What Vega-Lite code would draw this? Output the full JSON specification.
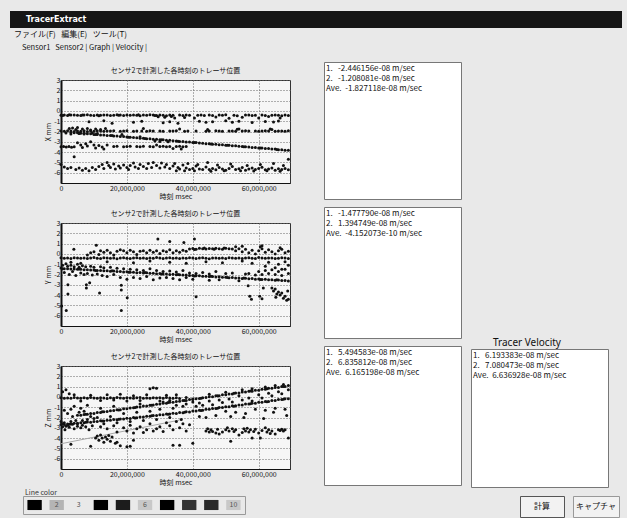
{
"$schema":"https://vega.github.io/schema/vega-lite/v6.json",
"background":"#e9e9e9",
"padding":{"left":10,"top":11,"right":5,"bottom":0},
"config":{"view":{"stroke":null},"font":"Noto Sans CJK JP","concat":{"spacing":0},
"axis":{"labelFontSize":7,"titleFontSize":7,"titleFontWeight":"normal","labelColor":"#111","titleColor":"#111","gridColor":"#666","gridDash":[1,2],"gridWidth":1,"domainColor":"#111","tickColor":"#111","labelPadding":1,"titlePadding":1.5,"ticks":false,"labelFont":"Noto Sans CJK JP","titleFont":"Noto Sans CJK JP"},
"title":{"font":"Noto Sans CJK JP"}},
"datasets":{
"none":[],
"X":[{"t":0,"v":-0.42},{"t":1,"v":-0.4},{"t":2,"v":-0.44},{"t":3,"v":-0.41},{"t":4,"v":-0.39},{"t":5,"v":-0.43},{"t":6,"v":-0.45},{"t":7,"v":-0.41},{"t":8,"v":-0.38},{"t":9,"v":-0.42},{"t":10,"v":-0.44},{"t":11,"v":-0.4},{"t":12,"v":-0.43},{"t":13,"v":-0.39},{"t":14,"v":-0.41},{"t":15,"v":-0.45},{"t":16,"v":-0.42},{"t":17,"v":-0.38},{"t":18,"v":-0.4},{"t":19,"v":-0.44},{"t":20,"v":-0.41},{"t":21,"v":-0.43},{"t":22,"v":-0.39},{"t":23,"v":-0.42},{"t":24,"v":-0.46},{"t":25,"v":-0.4},{"t":26,"v":-0.43},{"t":27,"v":-0.37},{"t":28,"v":-0.41},{"t":29,"v":-0.44},{"t":30,"v":-0.4},{"t":31,"v":-0.42},{"t":32,"v":-0.47},{"t":33,"v":-0.39},{"t":34,"v":-0.43},
{"t":0.5,"v":-0.45},{"t":2.5,"v":-0.38},{"t":6.5,"v":-0.4},{"t":11.5,"v":-0.46},{"t":17.5,"v":-0.43},{"t":23.5,"v":-0.38},{"t":28.5,"v":-0.45},{"t":29.5,"v":-0.58},{"t":31.5,"v":-0.62},{"t":33.5,"v":-0.55},{"t":34.5,"v":-0.7},
{"t":36,"v":-0.41},{"t":37,"v":-0.44},{"t":38,"v":-0.4},{"t":39,"v":-0.43},{"t":41.5,"v":-0.42},{"t":42.5,"v":-0.39},{"t":43.5,"v":-0.44},{"t":45,"v":-0.41},{"t":46,"v":-0.45},{"t":48,"v":-0.4},{"t":49,"v":-0.43},{"t":50,"v":-0.38},{"t":52.5,"v":-0.42},{"t":53.5,"v":-0.46},{"t":56,"v":-0.41},{"t":57,"v":-0.39},{"t":58,"v":-0.44},{"t":59,"v":-0.42},{"t":61,"v":-0.4},{"t":62,"v":-0.45},{"t":64,"v":-0.43},{"t":65,"v":-0.39},{"t":66,"v":-0.42},{"t":67,"v":-0.46},{"t":68,"v":-0.41},{"t":69,"v":-0.44},
{"t":37.5,"v":-0.65},{"t":40.5,"v":-0.7},{"t":47,"v":-0.6},{"t":51,"v":-0.72},{"t":55,"v":-0.62},{"t":60,"v":-0.68},{"t":63,"v":-0.55},{"t":66.5,"v":-0.7},
{"t":8.5,"v":-1.05},{"t":13,"v":-0.95},{"t":15.5,"v":-1.2},{"t":22,"v":-1.1},{"t":24.5,"v":-1.0},{"t":31,"v":-1.15},{"t":33,"v":-1.05},{"t":35.5,"v":-1.2},{"t":42,"v":-1.0},{"t":44,"v":-1.1},{"t":46,"v":-1.05},{"t":50,"v":-0.95},{"t":52,"v":-1.1},{"t":54,"v":-1.0},{"t":58,"v":-1.12},{"t":62,"v":-1.02},{"t":64.5,"v":-1.08},{"t":66,"v":-0.98},
{"t":0,"v":-1.95},{"t":1,"v":-1.98},{"t":2,"v":-1.93},{"t":3,"v":-1.96},{"t":4,"v":-2.0},{"t":5,"v":-1.94},{"t":6,"v":-1.97},{"t":7,"v":-1.92},{"t":8,"v":-1.99},{"t":9,"v":-1.95},{"t":10,"v":-1.97},{"t":11,"v":-1.93},{"t":12,"v":-1.96},{"t":13,"v":-1.98},{"t":14,"v":-1.94},
{"t":1.5,"v":-2.15},{"t":2.5,"v":-1.7},{"t":3,"v":-2.25},{"t":3.5,"v":-1.65},{"t":4.5,"v":-1.8},{"t":5,"v":-1.6},{"t":5.5,"v":-2.2},{"t":6.5,"v":-1.75},{"t":7,"v":-2.25},{"t":8,"v":-1.7},{"t":9,"v":-1.85},{"t":9.5,"v":-2.15},{"t":10.5,"v":-1.75},{"t":11,"v":-2.2},{"t":12,"v":-1.8},{"t":13.5,"v":-1.72},
{"t":15,"v":-1.96},{"t":16,"v":-1.93},{"t":18,"v":-1.97},{"t":19,"v":-1.95},{"t":20,"v":-1.92},{"t":22,"v":-1.98},{"t":23,"v":-1.95},{"t":24.5,"v":-1.94},{"t":26,"v":-1.97},{"t":27,"v":-1.93},{"t":28,"v":-1.96},
{"t":30,"v":-1.95},{"t":31,"v":-1.98},{"t":33,"v":-1.94},{"t":34,"v":-1.96},{"t":35,"v":-1.93},{"t":37.5,"v":-1.97},{"t":38.5,"v":-1.95},{"t":41,"v":-1.94},{"t":44,"v":-1.97},{"t":45,"v":-1.95},{"t":47,"v":-1.93},{"t":48,"v":-1.96},{"t":49,"v":-1.98},{"t":51,"v":-1.95},{"t":52,"v":-1.94},{"t":53,"v":-1.97},{"t":55,"v":-1.95},{"t":56,"v":-1.93},{"t":57,"v":-1.96},{"t":59,"v":-1.94},{"t":60,"v":-1.97},{"t":61,"v":-1.95},{"t":62,"v":-1.93},{"t":63,"v":-1.96},{"t":65,"v":-1.98},{"t":66,"v":-1.94},{"t":67,"v":-1.95},{"t":68,"v":-1.97},{"t":69,"v":-1.93},
{"t":53.5,"v":-1.78},{"t":54,"v":-1.75},{"t":63.5,"v":-1.75},{"t":64,"v":-1.8},{"t":44.5,"v":-1.8},{"t":25,"v":-1.72},{"t":36,"v":-1.75},
{"t":3,"v":-2.08},{"t":4,"v":-2.13},{"t":5,"v":-2.12},{"t":6,"v":-2.17},{"t":7,"v":-2.18},{"t":8,"v":-2.23},{"t":9,"v":-2.23},{"t":10,"v":-2.28},{"t":11,"v":-2.28},{"t":12,"v":-2.34},{"t":13,"v":-2.33},{"t":14,"v":-2.38},{"t":15,"v":-2.39},{"t":16,"v":-2.43},{"t":17,"v":-2.44},{"t":18,"v":-2.49},{"t":19,"v":-2.49},{"t":20,"v":-2.54},{"t":21,"v":-2.55},{"t":22,"v":-2.59},{"t":23,"v":-2.6},{"t":24,"v":-2.65},{"t":25,"v":-2.65},{"t":26,"v":-2.7},{"t":27,"v":-2.71},{"t":28,"v":-2.75},{"t":29,"v":-2.76},{"t":30,"v":-2.81},{"t":31,"v":-2.81},{"t":32,"v":-2.86},{"t":33,"v":-2.86},{"t":34,"v":-2.91},{"t":35,"v":-2.92},{"t":36,"v":-2.96},{"t":37,"v":-2.97},{"t":38,"v":-3.02},{"t":39,"v":-3.02},{"t":40,"v":-3.07},{"t":41,"v":-3.08},{"t":42,"v":-3.12},{"t":43,"v":-3.13},{"t":44,"v":-3.18},{"t":45,"v":-3.18},{"t":46,"v":-3.23},{"t":47,"v":-3.24},{"t":48,"v":-3.28},{"t":49,"v":-3.29},{"t":50,"v":-3.34},{"t":51,"v":-3.34},{"t":52,"v":-3.39},{"t":53,"v":-3.39},{"t":54,"v":-3.44},{"t":55,"v":-3.45},{"t":56,"v":-3.49},{"t":57,"v":-3.5},{"t":58,"v":-3.55},{"t":59,"v":-3.55},{"t":60,"v":-3.6},{"t":61,"v":-3.61},{"t":62,"v":-3.65},{"t":63,"v":-3.66},{"t":64,"v":-3.71},{"t":65,"v":-3.71},{"t":66,"v":-3.76},{"t":67,"v":-3.77},{"t":68,"v":-3.81},{"t":69,"v":-3.82},
{"t":5.5,"v":-2.16},{"t":10.5,"v":-2.29},{"t":15.5,"v":-2.4},{"t":20.5,"v":-2.55},{"t":25.5,"v":-2.68},{"t":30.5,"v":-2.8},{"t":35.5,"v":-2.95},{"t":40.5,"v":-3.08},{"t":45.5,"v":-3.21},{"t":50.5,"v":-3.34},{"t":55.5,"v":-3.48},{"t":60.5,"v":-3.61},{"t":65.5,"v":-3.74},{"t":28.5,"v":-2.92},{"t":30,"v":-2.96},{"t":32.5,"v":-3.0},{"t":24,"v":-2.5},{"t":18.5,"v":-2.3},
{"t":0,"v":-3.48},{"t":0.8,"v":-3.45},{"t":1.6,"v":-3.5},{"t":2.4,"v":-3.46},{"t":3.2,"v":-3.52},{"t":4,"v":-3.47},{"t":5,"v":-3.1},{"t":6,"v":-3.3},{"t":6.5,"v":-3.55},{"t":7.5,"v":-3.2},{"t":8,"v":-3.4},{"t":9,"v":-3.0},{"t":10,"v":-3.3},{"t":10.5,"v":-3.6},{"t":11.5,"v":-3.35},{"t":12.5,"v":-3.5},{"t":13,"v":-3.7},{"t":14,"v":-3.3},
{"t":16,"v":-3.46},{"t":17,"v":-3.44},{"t":19,"v":-3.47},{"t":20,"v":-3.45},{"t":21,"v":-3.43},{"t":23,"v":-3.46},{"t":24,"v":-3.48},{"t":25,"v":-3.44},{"t":27,"v":-3.45},{"t":28,"v":-3.47},{"t":30,"v":-3.46},{"t":31,"v":-3.44},{"t":32,"v":-3.48},{"t":33,"v":-3.45},{"t":35,"v":-3.46},{"t":36,"v":-3.43},{"t":37,"v":-3.47},{"t":38,"v":-3.45},{"t":29,"v":-3.3},{"t":34,"v":-3.65},{"t":36.5,"v":-3.7},
{"t":0,"v":-5.2},{"t":1,"v":-5.45},{"t":2,"v":-5.6},{"t":3,"v":-5.5},{"t":4.5,"v":-5.7},{"t":5.5,"v":-5.55},{"t":6.5,"v":-5.75},{"t":7.5,"v":-5.6},{"t":8.5,"v":-5.8},{"t":9.5,"v":-5.5},{"t":10.5,"v":-5.7},{"t":11.5,"v":-5.4},{"t":12.5,"v":-5.2},{"t":13,"v":-5.6},{"t":14,"v":-5.0},{"t":14.5,"v":-5.3},{"t":15,"v":-5.5},{"t":16,"v":-5.15},{"t":16.5,"v":-5.65},{"t":17.5,"v":-5.35},{"t":18,"v":-5.55},{"t":19,"v":-5.25},{"t":20,"v":-5.5},{"t":20.5,"v":-5.7},{"t":21,"v":-5.3},{"t":22,"v":-5.05},{"t":22.5,"v":-5.45},{"t":23.5,"v":-5.6},{"t":24,"v":-5.2},{"t":25,"v":-5.4},{"t":26,"v":-5.6},{"t":26.5,"v":-5.1},{"t":27.5,"v":-5.5},{"t":28,"v":-5.0},{"t":29,"v":-5.3},{"t":30,"v":-5.55},{"t":30.5,"v":-5.05},{"t":31.5,"v":-5.45},{"t":32,"v":-5.2},{"t":33,"v":-5.6},{"t":34,"v":-5.35},{"t":34.5,"v":-5.1},{"t":35.5,"v":-5.5},{"t":36,"v":-5.65},{"t":37,"v":-5.25},{"t":38,"v":-5.55},{"t":39,"v":-5.7},{"t":40,"v":-5.6},{"t":41,"v":-5.35},{"t":42,"v":-5.65},{"t":43,"v":-5.7},{"t":44,"v":-5.45},{"t":45,"v":-5.68},{"t":46,"v":-5.6},{"t":47,"v":-5.72},{"t":48,"v":-5.5},{"t":49,"v":-5.65},{"t":50,"v":-5.75},{"t":51,"v":-5.6},{"t":52,"v":-5.4},{"t":53,"v":-5.7},{"t":54,"v":-5.62},{"t":55,"v":-5.5},{"t":56,"v":-5.75},{"t":57,"v":-5.65},{"t":58,"v":-5.55},{"t":59,"v":-5.7},{"t":60,"v":-5.6},{"t":61,"v":-5.48},{"t":62,"v":-5.72},{"t":63,"v":-5.65},{"t":64,"v":-5.55},{"t":65,"v":-5.75},{"t":66,"v":-5.62},{"t":67,"v":-5.7},{"t":68,"v":-5.6},{"t":69,"v":-5.72},
{"t":38.5,"v":-5.1},{"t":41.5,"v":-5.2},{"t":44.5,"v":-5.0},{"t":47.5,"v":-5.25},{"t":51.5,"v":-5.15},{"t":56.5,"v":-5.3},{"t":60.5,"v":-5.2},{"t":64.5,"v":-5.1},{"t":67.5,"v":-5.3},{"t":35,"v":-5.8},{"t":37.5,"v":-5.82},{"t":40.5,"v":-5.8},{"t":45.5,"v":-5.85},{"t":49.5,"v":-5.82},{"t":54.5,"v":-5.8},{"t":58.5,"v":-5.83},{"t":62.5,"v":-5.8},{"t":66.5,"v":-5.85},{"t":4,"v":-4.45},{"t":69,"v":-4.7}],
"Y":[{"t":0,"v":-0.38},{"t":1,"v":-0.42},{"t":2,"v":-0.4},{"t":3,"v":-0.44},{"t":4,"v":-0.37},{"t":5,"v":-0.41},{"t":6,"v":-0.43},{"t":7,"v":-0.39},{"t":8,"v":-0.45},{"t":9,"v":-0.4},{"t":10,"v":-0.36},{"t":11,"v":-0.42},{"t":12,"v":-0.44},{"t":13,"v":-0.38},{"t":14,"v":-0.41},{"t":15,"v":-0.43},{"t":16,"v":-0.39},{"t":17,"v":-0.46},{"t":18,"v":-0.4},{"t":19,"v":-0.37},{"t":20,"v":-0.42},{"t":21,"v":-0.44},{"t":22,"v":-0.4},{"t":23,"v":-0.38},{"t":24,"v":-0.43},{"t":25,"v":-0.41},{"t":26,"v":-0.45},{"t":27,"v":-0.39},{"t":28,"v":-0.42},{"t":29,"v":-0.36},{"t":30,"v":-0.4},{"t":31,"v":-0.44},{"t":32,"v":-0.41},{"t":33,"v":-0.38},{"t":34,"v":-0.43},{"t":35,"v":-0.4},{"t":36,"v":-0.45},{"t":37,"v":-0.39},{"t":38,"v":-0.42},{"t":39,"v":-0.37},{"t":40,"v":-0.41},{"t":41,"v":-0.44},{"t":42,"v":-0.4},{"t":43,"v":-0.38},{"t":44,"v":-0.43},{"t":45,"v":-0.46},{"t":46,"v":-0.41},{"t":47,"v":-0.39},{"t":48,"v":-0.42},{"t":49,"v":-0.4},{"t":50,"v":-0.44},{"t":51,"v":-0.37},{"t":52,"v":-0.41},{"t":53,"v":-0.43},{"t":54,"v":-0.39},{"t":55,"v":-0.45},{"t":56,"v":-0.4},{"t":57,"v":-0.38},{"t":58,"v":-0.42},{"t":59,"v":-0.44},{"t":60,"v":-0.36},{"t":61,"v":-0.41},{"t":62,"v":-0.43},{"t":63,"v":-0.39},{"t":64,"v":-0.4},{"t":65,"v":-0.45},{"t":66,"v":-0.42},{"t":67,"v":-0.38},{"t":68,"v":-0.41},{"t":69,"v":-0.44},
{"t":39,"v":0.48},{"t":40,"v":0.52},{"t":41,"v":0.45},{"t":42,"v":0.55},{"t":43,"v":0.5},{"t":44,"v":0.47},{"t":45,"v":0.53},{"t":46,"v":0.49},{"t":47,"v":0.56},{"t":48,"v":0.51},{"t":49,"v":0.46},{"t":50,"v":0.54},{"t":51,"v":0.5},{"t":52,"v":0.48},{"t":40.5,"v":0.42},{"t":43.5,"v":0.58},{"t":46.5,"v":0.44},{"t":49.5,"v":0.57},
{"t":8,"v":-0.1},{"t":9,"v":0.1},{"t":10,"v":0.2},{"t":11.5,"v":-0.05},{"t":12,"v":0.3},{"t":13,"v":0.15},{"t":14,"v":0.35},{"t":15,"v":0.1},{"t":16,"v":-0.1},{"t":17,"v":0.25},{"t":18,"v":0.4},{"t":19,"v":0.3},{"t":20,"v":0.1},{"t":21,"v":0.35},{"t":22,"v":0.2},{"t":23,"v":-0.05},{"t":24,"v":0.25},{"t":25,"v":0.3},{"t":26,"v":0.1},{"t":27,"v":0.35},{"t":28,"v":0.15},{"t":29,"v":0.3},{"t":30,"v":0.05},{"t":31,"v":0.3},{"t":32,"v":0.2},{"t":33,"v":0.4},{"t":34,"v":0.1},{"t":35,"v":0.3},{"t":36,"v":0.15},{"t":37,"v":0.35},{"t":38,"v":0.25},{"t":53,"v":0.3},{"t":54,"v":0.5},{"t":55,"v":0.2},{"t":56,"v":0.45},{"t":57,"v":0.1},{"t":58,"v":0.35},{"t":59,"v":0.0},{"t":60,"v":0.3},{"t":61,"v":0.5},{"t":62,"v":0.15},{"t":63,"v":0.4},{"t":64,"v":0.2},{"t":65,"v":0.0},{"t":66,"v":0.3},{"t":67,"v":0.45},{"t":68,"v":0.1},{"t":69,"v":0.25},{"t":53,"v":0.7},{"t":55,"v":0.75},{"t":60.5,"v":0.7},{"t":61,"v":0.8},{"t":66.5,"v":0.6},
{"t":3,"v":-0.8},{"t":6,"v":-0.9},{"t":14,"v":-0.75},{"t":22,"v":-0.85},{"t":27,"v":-0.7},{"t":33,"v":-0.8},{"t":38,"v":-0.9},{"t":44,"v":-0.75},{"t":49,"v":-0.85},{"t":55,"v":-0.7},{"t":58,"v":-0.9},{"t":63,"v":-0.8},{"t":66,"v":-1.0},{"t":68,"v":-0.75},{"t":62,"v":-1.2},{"t":65,"v":-1.35},{"t":67,"v":-1.5},{"t":69,"v":-1.1},
{"t":0,"v":-1.38},{"t":1,"v":-1.44},{"t":2,"v":-1.43},{"t":3,"v":-1.47},{"t":4,"v":-1.46},{"t":5,"v":-1.5},{"t":6,"v":-1.49},{"t":7,"v":-1.54},{"t":8,"v":-1.53},{"t":9,"v":-1.57},{"t":10,"v":-1.56},{"t":11,"v":-1.61},{"t":12,"v":-1.6},{"t":13,"v":-1.64},{"t":14,"v":-1.63},{"t":15,"v":-1.68},{"t":16,"v":-1.67},{"t":17,"v":-1.71},{"t":18,"v":-1.7},{"t":19,"v":-1.75},{"t":20,"v":-1.74},{"t":21,"v":-1.78},{"t":22,"v":-1.77},{"t":23,"v":-1.82},{"t":24,"v":-1.81},{"t":25,"v":-1.85},{"t":26,"v":-1.84},{"t":27,"v":-1.89},{"t":28,"v":-1.88},{"t":29,"v":-1.92},{"t":30,"v":-1.91},{"t":31,"v":-1.96},{"t":32,"v":-1.95},{"t":33,"v":-1.99},{"t":34,"v":-1.98},{"t":35,"v":-2.03},{"t":36,"v":-2.02},{"t":37,"v":-2.06},{"t":38,"v":-2.05},{"t":39,"v":-2.1},{"t":40,"v":-2.09},{"t":41,"v":-2.13},{"t":42,"v":-2.12},{"t":43,"v":-2.17},{"t":44,"v":-2.16},{"t":45,"v":-2.2},{"t":46,"v":-2.19},{"t":47,"v":-2.24},{"t":48,"v":-2.23},{"t":49,"v":-2.27},{"t":50,"v":-2.26},{"t":51,"v":-2.31},{"t":52,"v":-2.3},{"t":53,"v":-2.34},{"t":54,"v":-2.33},{"t":55,"v":-2.38},{"t":56,"v":-2.37},{"t":57,"v":-2.41},{"t":58,"v":-2.4},{"t":59,"v":-2.45},{"t":60,"v":-2.44},{"t":61,"v":-2.48},{"t":62,"v":-2.47},{"t":63,"v":-2.52},{"t":64,"v":-2.51},{"t":65,"v":-2.55},{"t":66,"v":-2.54},{"t":67,"v":-2.59},{"t":68,"v":-2.58},{"t":69,"v":-2.62},
{"t":0.5,"v":-1.45},{"t":5.5,"v":-1.46},{"t":10.5,"v":-1.62},{"t":15.5,"v":-1.64},{"t":20.5,"v":-1.79},{"t":25.5,"v":-1.81},{"t":30.5,"v":-1.96},{"t":35.5,"v":-1.99},{"t":40.5,"v":-2.14},{"t":45.5,"v":-2.17},{"t":50.5,"v":-2.3},{"t":55.5,"v":-2.34},{"t":60.5,"v":-2.48},{"t":65.5,"v":-2.51},
{"t":0.5,"v":-1.1},{"t":1,"v":-1.8},{"t":1.5,"v":-0.95},{"t":2,"v":-1.2},{"t":2.5,"v":-2.0},{"t":3,"v":-1.1},{"t":3.5,"v":-1.7},{"t":4,"v":-1.25},{"t":4.5,"v":-2.1},{"t":5,"v":-1.0},{"t":5.5,"v":-1.3},{"t":6,"v":-1.85},{"t":6.5,"v":-1.15},{"t":7,"v":-2.0},{"t":7.5,"v":-1.25},{"t":8,"v":-1.9},{"t":9,"v":-1.2},{"t":9.5,"v":-2.05},{"t":10,"v":-1.3},{"t":11,"v":-1.95},{"t":12,"v":-1.25},{"t":12.5,"v":-2.1},{"t":13,"v":-1.35},{"t":14,"v":-2.2},{"t":15,"v":-1.3},{"t":16,"v":-2.0},{"t":17,"v":-1.4},{"t":18,"v":-2.3},{"t":19,"v":-1.45},{"t":20,"v":-2.45},{"t":21,"v":-1.5},{"t":22,"v":-2.3},{"t":23,"v":-1.55},{"t":24,"v":-2.4},{"t":25,"v":-1.6},{"t":26,"v":-2.2},{"t":27,"v":-1.45},{"t":28,"v":-2.5},{"t":29,"v":-1.6},{"t":30,"v":-2.35},{"t":31,"v":-1.7},{"t":32,"v":-2.3},{"t":33,"v":-1.65},{"t":34,"v":-2.4},{"t":35,"v":-1.75},{"t":36,"v":-2.5},{"t":37,"v":-1.6},{"t":38,"v":-2.3},{"t":39,"v":-1.85},{"t":40,"v":-2.45},{"t":41,"v":-1.9},{"t":43,"v":-1.8},{"t":45,"v":-1.95},{"t":47,"v":-1.7},{"t":48,"v":-2.5},{"t":50,"v":-1.9},{"t":52,"v":-1.85},{"t":54,"v":-2.6},{"t":56,"v":-1.95},{"t":57,"v":-1.9},{"t":59,"v":-2.05},{"t":60,"v":-1.7},{"t":61,"v":-2.0},{"t":62,"v":-1.6},{"t":63,"v":-1.9},{"t":64,"v":-1.55},{"t":65,"v":-2.0},{"t":66,"v":-1.7},{"t":67,"v":-2.1},{"t":68,"v":-1.5},{"t":69,"v":-1.9},
{"t":0.2,"v":-5.06},{"t":1.6,"v":-5.5},{"t":2.1,"v":-3.9},{"t":2.1,"v":-3.0},{"t":3.9,"v":0.45},{"t":7.7,"v":-3.0},{"t":7.7,"v":-3.3},{"t":8.7,"v":-2.8},{"t":10.7,"v":0.85},{"t":11.7,"v":-3.8},{"t":18.3,"v":-3.05},{"t":18.3,"v":-3.5},{"t":18.3,"v":-5.5},{"t":20.1,"v":-4.25},{"t":29.4,"v":1.45},{"t":33,"v":1.2},{"t":37.3,"v":1.1},{"t":40.5,"v":1.45},{"t":41,"v":-4.15},{"t":45,"v":-2.55},{"t":56.8,"v":-3.1},{"t":57.3,"v":-4.1},{"t":57.8,"v":-4.4},{"t":60.3,"v":-4.1},{"t":61.4,"v":-3.3},{"t":61,"v":-4.35},{"t":64,"v":-3.3},{"t":64.5,"v":-3.6},{"t":65,"v":-3.4},{"t":65.5,"v":-3.9},{"t":66,"v":-3.7},{"t":66.5,"v":-4.0},{"t":67,"v":-3.8},{"t":67.5,"v":-4.3},{"t":68,"v":-4.1},{"t":68.5,"v":-4.5},{"t":69,"v":-4.4},{"t":65.2,"v":-4.2},{"t":68.8,"v":-3.6}],
"Z":[{"t":0,"v":-0.08},{"t":1,"v":-0.12},{"t":2,"v":-0.1},{"t":3,"v":-0.14},{"t":4,"v":-0.07},{"t":5,"v":-0.11},{"t":6,"v":-0.13},{"t":7,"v":-0.09},{"t":8,"v":-0.12},{"t":9,"v":-0.06},{"t":10,"v":-0.1},{"t":11,"v":-0.13},{"t":12,"v":-0.08},{"t":13,"v":-0.11},{"t":14,"v":-0.15},{"t":15,"v":-0.09},{"t":16,"v":-0.12},{"t":17,"v":-0.07},{"t":18,"v":-0.1},{"t":19,"v":-0.14},{"t":20,"v":-0.08},{"t":21,"v":-0.11},{"t":22,"v":-0.13},{"t":23,"v":-0.09},{"t":24,"v":-0.06},{"t":25,"v":-0.12},{"t":26,"v":-0.1},{"t":27,"v":-0.14},{"t":28,"v":-0.08},{"t":29,"v":-0.11},{"t":30,"v":-0.09},{"t":31,"v":-0.13},{"t":32,"v":-0.07},{"t":33,"v":-0.1},{"t":34,"v":-0.12},{"t":35,"v":-0.08},
{"t":0.5,"v":0.5},{"t":1.5,"v":0.7},{"t":2.5,"v":0.3},{"t":4,"v":0.2},{"t":6,"v":-0.4},{"t":9,"v":0.15},{"t":12,"v":-0.35},{"t":14,"v":0.2},{"t":16,"v":-0.3},{"t":18,"v":0.25},{"t":20,"v":-0.4},{"t":22,"v":0.1},{"t":24,"v":-0.35},{"t":26,"v":0.2},{"t":27,"v":0.8},{"t":28,"v":0.9},{"t":29,"v":0.85},{"t":30,"v":-0.4},{"t":32,"v":0.15},{"t":33,"v":-0.35},{"t":35,"v":0.2},{"t":36,"v":-0.15},{"t":38,"v":-0.05},{"t":40,"v":-0.2},
{"t":5,"v":-1.79},{"t":6,"v":-1.78},{"t":7,"v":-1.7},{"t":8,"v":-1.69},{"t":9,"v":-1.61},{"t":10,"v":-1.6},{"t":11,"v":-1.52},{"t":12,"v":-1.51},{"t":13,"v":-1.43},{"t":14,"v":-1.42},{"t":15,"v":-1.34},{"t":16,"v":-1.33},{"t":17,"v":-1.25},{"t":18,"v":-1.24},{"t":19,"v":-1.16},{"t":20,"v":-1.15},{"t":21,"v":-1.07},{"t":22,"v":-1.06},{"t":23,"v":-0.98},{"t":24,"v":-0.97},{"t":25,"v":-0.89},{"t":26,"v":-0.88},{"t":27,"v":-0.8},{"t":28,"v":-0.79},{"t":29,"v":-0.71},{"t":30,"v":-0.7},{"t":31,"v":-0.62},{"t":32,"v":-0.61},{"t":33,"v":-0.53},{"t":34,"v":-0.52},{"t":35,"v":-0.44},{"t":36,"v":-0.43},{"t":37,"v":-0.35},{"t":38,"v":-0.34},{"t":39,"v":-0.26},{"t":40,"v":-0.25},{"t":41,"v":-0.17},{"t":42,"v":-0.16},{"t":43,"v":-0.08},{"t":44,"v":-0.07},{"t":45,"v":0.01},{"t":46,"v":0.02},{"t":47,"v":0.11},{"t":48,"v":0.11},{"t":49,"v":0.2},{"t":50,"v":0.2},{"t":51,"v":0.29},{"t":52,"v":0.29},{"t":53,"v":0.38},{"t":54,"v":0.38},{"t":55,"v":0.47},{"t":56,"v":0.47},{"t":57,"v":0.56},{"t":58,"v":0.56},{"t":59,"v":0.65},{"t":60,"v":0.65},{"t":61,"v":0.74},{"t":62,"v":0.74},{"t":63,"v":0.83},{"t":64,"v":0.83},{"t":65,"v":0.92},{"t":66,"v":0.92},{"t":67,"v":1.01},{"t":68,"v":1.01},{"t":69,"v":1.1},
{"t":7.5,"v":-1.68},{"t":12.5,"v":-1.45},{"t":17.5,"v":-1.27},{"t":22.5,"v":-1.02},{"t":27.5,"v":-0.82},{"t":32.5,"v":-0.55},{"t":37.5,"v":-0.35},{"t":42.5,"v":-0.12},{"t":47.5,"v":0.12},{"t":52.5,"v":0.35},{"t":57.5,"v":0.57},{"t":62.5,"v":0.79},{"t":67.5,"v":1.02},
{"t":0,"v":-2.68},{"t":1,"v":-2.69},{"t":2,"v":-2.62},{"t":3,"v":-2.63},{"t":4,"v":-2.56},{"t":5,"v":-2.57},{"t":6,"v":-2.5},{"t":7,"v":-2.51},{"t":8,"v":-2.44},{"t":9,"v":-2.45},{"t":10,"v":-2.38},{"t":11,"v":-2.39},{"t":12,"v":-2.32},{"t":13,"v":-2.33},{"t":14,"v":-2.26},{"t":15,"v":-2.27},{"t":16,"v":-2.2},{"t":17,"v":-2.21},{"t":18,"v":-2.14},{"t":19,"v":-2.15},{"t":20,"v":-2.08},{"t":21,"v":-2.09},{"t":22,"v":-2.01},{"t":23,"v":-2.02},{"t":24,"v":-1.94},{"t":25,"v":-1.95},{"t":26,"v":-1.87},{"t":27,"v":-1.88},{"t":28,"v":-1.8},{"t":29,"v":-1.81},{"t":30,"v":-1.73},{"t":31,"v":-1.74},{"t":32,"v":-1.66},{"t":33,"v":-1.67},{"t":34,"v":-1.59},{"t":35,"v":-1.6},{"t":36,"v":-1.52},{"t":37,"v":-1.53},{"t":38,"v":-1.45},{"t":39,"v":-1.46},{"t":40,"v":-1.38},{"t":41,"v":-1.38},{"t":42,"v":-1.3},{"t":43,"v":-1.29},{"t":44,"v":-1.21},{"t":45,"v":-1.21},{"t":46,"v":-1.13},{"t":47,"v":-1.12},{"t":48,"v":-1.04},{"t":49,"v":-1.04},{"t":50,"v":-0.96},{"t":51,"v":-0.95},{"t":52,"v":-0.87},{"t":53,"v":-0.87},{"t":54,"v":-0.79},{"t":55,"v":-0.78},{"t":56,"v":-0.7},{"t":57,"v":-0.7},{"t":58,"v":-0.62},{"t":59,"v":-0.61},{"t":60,"v":-0.53},{"t":61,"v":-0.53},{"t":62,"v":-0.44},{"t":63,"v":-0.44},{"t":64,"v":-0.35},{"t":65,"v":-0.35},{"t":66,"v":-0.26},{"t":67,"v":-0.26},{"t":68,"v":-0.17},{"t":69,"v":-0.17},
{"t":2.5,"v":-2.66},{"t":7.5,"v":-2.47},{"t":12.5,"v":-2.35},{"t":17.5,"v":-2.17},{"t":22.5,"v":-2.04},{"t":27.5,"v":-1.84},{"t":32.5,"v":-1.69},{"t":37.5,"v":-1.49},{"t":42.5,"v":-1.33},{"t":47.5,"v":-1.1},{"t":52.5,"v":-0.9},{"t":57.5,"v":-0.66},{"t":62.5,"v":-0.47},{"t":67.5,"v":-0.22},
{"t":0,"v":-2.4},{"t":0.5,"v":-2.9},{"t":1,"v":-2.5},{"t":1.5,"v":-2.85},{"t":2,"v":-1.6},{"t":2.5,"v":-2.95},{"t":3,"v":-2.4},{"t":3.5,"v":-1.9},{"t":4,"v":-3.1},{"t":4.5,"v":-2.3},{"t":5,"v":-2.85},{"t":5.5,"v":-1.5},{"t":6,"v":-3.0},{"t":6.5,"v":-2.3},{"t":7,"v":-1.4},{"t":7.5,"v":-2.9},{"t":8,"v":-2.2},{"t":8.5,"v":-3.2},{"t":9,"v":-1.9},{"t":9.5,"v":-2.8},{"t":10,"v":-2.1},{"t":1,"v":-1.3},{"t":3,"v":-1.2},{"t":4,"v":-0.9},{"t":6,"v":-1.1},{"t":8,"v":-0.8},{"t":0.5,"v":-2.6},{"t":2,"v":-2.75},{"t":3.5,"v":-2.65},{"t":5,"v":-2.6},{"t":6.5,"v":-2.75},{"t":1.2,"v":-3.2},
{"t":11,"v":-2.0},{"t":12,"v":-1.1},{"t":13,"v":-2.6},{"t":15,"v":-1.9},{"t":16,"v":-0.9},{"t":17,"v":-2.5},{"t":19,"v":-1.6},{"t":21,"v":-2.4},{"t":23,"v":-1.5},{"t":24,"v":-0.7},{"t":25,"v":-2.3},{"t":27,"v":-1.4},{"t":29,"v":-2.2},{"t":30,"v":-1.2},{"t":31,"v":-0.5},{"t":33,"v":-2.0},{"t":34,"v":-1.1},{"t":35,"v":-0.8},
{"t":12,"v":-2.9},{"t":14,"v":-3.1},{"t":16,"v":-2.8},{"t":17,"v":-3.4},{"t":19,"v":-3.0},{"t":20,"v":-3.3},{"t":21,"v":-2.75},{"t":22,"v":-3.5},{"t":23,"v":-3.1},{"t":24,"v":-2.9},{"t":25,"v":-3.45},{"t":26,"v":-3.2},{"t":27,"v":-2.6},{"t":28,"v":-3.3},{"t":29,"v":-3.1},{"t":30,"v":-2.9},{"t":31,"v":-3.35},{"t":32,"v":-2.5},{"t":33,"v":-2.8},{"t":34,"v":-3.2},{"t":35,"v":-2.4},{"t":36,"v":-3.0},{"t":37,"v":-2.6},{"t":38,"v":-3.3},{"t":36.5,"v":-2.2},{"t":39,"v":-2.7},
{"t":10.5,"v":-4.0},{"t":11,"v":-3.8},{"t":11.5,"v":-4.2},{"t":12,"v":-3.7},{"t":12.5,"v":-4.0},{"t":13,"v":-4.4},{"t":13.5,"v":-3.9},{"t":14,"v":-4.1},{"t":14.5,"v":-3.75},{"t":15,"v":-4.3},{"t":15.5,"v":-3.9},{"t":16.5,"v":-4.5},{"t":9,"v":-4.8},{"t":18,"v":-4.75},{"t":20,"v":-4.85},{"t":21,"v":-4.8},{"t":34,"v":-4.7},{"t":36,"v":-4.7},{"t":3,"v":-4.6},{"t":17,"v":-4.4},{"t":22,"v":-4.2},
{"t":40,"v":-4.5},{"t":44,"v":-3.3},{"t":44.5,"v":-3.1},{"t":45,"v":-3.4},{"t":45.5,"v":-3.2},{"t":46,"v":-3.35},{"t":47,"v":-3.5},{"t":47.5,"v":-3.15},{"t":49,"v":-3.4},{"t":50,"v":-3.2},{"t":50.5,"v":-3.0},{"t":51,"v":-3.3},{"t":51.5,"v":-4.3},{"t":52,"v":-3.1},{"t":52.5,"v":-3.35},{"t":53,"v":-3.2},{"t":55,"v":-3.45},{"t":55.5,"v":-3.1},{"t":56,"v":-3.3},{"t":56.5,"v":-3.05},{"t":57,"v":-3.4},{"t":57.5,"v":-3.2},{"t":58,"v":-4.0},{"t":58.5,"v":-3.35},{"t":59,"v":-3.15},{"t":60,"v":-3.5},{"t":60.5,"v":-4.0},{"t":61,"v":-3.25},{"t":62,"v":-3.0},{"t":62.5,"v":-3.4},{"t":63,"v":-3.2},{"t":63.5,"v":-3.55},{"t":64,"v":-3.3},{"t":65,"v":-3.6},{"t":66,"v":-3.2},{"t":66.5,"v":-3.25},{"t":67,"v":-3.15},{"t":67.5,"v":-3.3},{"t":68,"v":-3.2},{"t":69,"v":-4.0},{"t":54,"v":-3.7},{"t":48,"v":-3.6},
{"t":37,"v":-0.9},{"t":38,"v":-0.7},{"t":40,"v":-0.5},{"t":41,"v":-0.9},{"t":42,"v":-0.6},{"t":43,"v":-0.8},{"t":45,"v":-0.4},{"t":46,"v":-0.75},{"t":48,"v":-0.3},{"t":49,"v":-0.55},{"t":50,"v":-1.4},{"t":51,"v":-0.2},{"t":52,"v":-0.5},{"t":53,"v":-1.5},{"t":54,"v":0.1},{"t":55,"v":-0.3},{"t":56,"v":-1.6},{"t":57,"v":-0.1},{"t":58,"v":-0.4},{"t":59,"v":-1.2},{"t":60,"v":0.2},{"t":61,"v":-0.1},{"t":62,"v":-1.3},{"t":63,"v":0.35},{"t":64,"v":0.1},{"t":65,"v":-1.1},{"t":66,"v":0.5},{"t":67,"v":0.3},{"t":68,"v":-1.2},{"t":69,"v":0.7},{"t":47,"v":-1.8},{"t":51.5,"v":-1.9},{"t":55.5,"v":-2.0},{"t":61.5,"v":-2.1},{"t":64.5,"v":-1.5},{"t":68.5,"v":-1.8},{"t":44,"v":-2.0},{"t":42,"v":-1.9},
{"t":45,"v":0.25},{"t":50,"v":0.45},{"t":55,"v":0.7},{"t":58,"v":0.8},{"t":62,"v":0.95},{"t":65,"v":1.1},{"t":67.5,"v":1.2}],
"fitZ":[{"t":0,"v":-4.55},{"t":36,"v":-2.25}],
"b1":[{"r":1,"s":"1.\u00a0\u00a0\u00a0-2.446156e-08 m/sec"},{"r":2,"s":"2.\u00a0\u00a0\u00a0-1.208081e-08 m/sec"},{"r":3,"s":"Ave.\u00a0\u00a0-1.827118e-08 m/sec"}],
"b2":[{"r":1,"s":"1.\u00a0\u00a0\u00a0-1.477790e-08 m/sec"},{"r":2,"s":"2.\u00a0\u00a0\u00a01.394749e-08 m/sec"},{"r":3,"s":"Ave.\u00a0\u00a0-4.152073e-10 m/sec"}],
"b3":[{"r":1,"s":"1.\u00a0\u00a0\u00a05.494583e-08 m/sec"},{"r":2,"s":"2.\u00a0\u00a0\u00a06.835812e-08 m/sec"},{"r":3,"s":"Ave.\u00a0\u00a06.165198e-08 m/sec"}],
"b4":[{"r":1,"s":"1.\u00a0\u00a0\u00a06.193383e-08 m/sec"},{"r":2,"s":"2.\u00a0\u00a0\u00a07.080473e-08 m/sec"},{"r":3,"s":"Ave.\u00a0\u00a06.636928e-08 m/sec"}],
"lc":[{"n":1,"c":"#000000","l":""},{"n":2,"c":"#b4b4b4","l":"2"},{"n":3,"c":"#e9e9e9","l":"3"},{"n":4,"c":"#000000","l":""},{"n":5,"c":"#1c1c1c","l":""},{"n":6,"c":"#c8c8c8","l":"6"},{"n":7,"c":"#000000","l":""},{"n":8,"c":"#333333","l":""},{"n":9,"c":"#2a2a2a","l":""},{"n":10,"c":"#c8c8c8","l":"10"}]
},
"spacing":0,
"vconcat":[
{"width":612,"height":17,"view":{"fill":"#161616"},"data":{"values":[{"s":"TracerExtract"}]},"mark":{"type":"text","align":"left","baseline":"middle","color":"white","fontWeight":"bold","fontSize":8,"dx":16,"font":"DejaVu Sans"},"encoding":{"text":{"field":"s"},"x":{"datum":0,"type":"quantitative","scale":{"domain":[0,1]},"axis":null}}},
{"width":612,"height":14,"data":{"values":[{"s":"ファイル(F)\u00a0\u00a0\u00a0編集(E)\u00a0\u00a0\u00a0ツール(T)"}]},"mark":{"type":"text","align":"left","baseline":"middle","color":"#111","fontSize":8,"dx":4},"encoding":{"text":{"field":"s"},"x":{"datum":0,"type":"quantitative","scale":{"domain":[0,1]},"axis":null}}},
{"width":612,"height":12,"data":{"values":[{"s":"Sensor1\u00a0\u00a0\u00a0Sensor2\u00a0|\u00a0Graph\u00a0|\u00a0Velocity\u00a0|"}]},"mark":{"type":"text","align":"left","baseline":"middle","color":"#111","fontSize":7.5,"dx":12},"encoding":{"text":{"field":"s"},"x":{"datum":0,"type":"quantitative","scale":{"domain":[0,1]},"axis":null}}},
{"hconcat":[
{"width":34,"height":1,"data":{"name":"none"},"mark":"point"},
{"spacing":9,"vconcat":[
{"width":229,"height":3,"data":{"name":"none"},"mark":"point"},
{"width":229,"height":103,"title":{"text":"センサ2で計測した各時刻のトレーサ位置","fontSize":7,"fontWeight":"normal","offset":2,"color":"#111"},"view":{"fill":"#f6f6f6","stroke":"#333"},
"data":{"name":"X"},"mark":{"type":"circle","size":9,"color":"#111","opacity":1},
"encoding":{"x":{"field":"t","type":"quantitative","scale":{"domain":[0,69.5],"nice":false},"axis":{"title":"時刻 msec","values":[0,5,10,15,20,25,30,35,40,45,50,55,60,65],"labelExpr":"datum.value % 20 === 0 ? format(datum.value * 1000000, ',') : ''","labelFlush":false,"labelOverlap":false,"gridOpacity":{"condition":{"test":"datum.value % 20 === 0","value":1},"value":0}}},
"y":{"field":"v","type":"quantitative","scale":{"domain":[-7,3],"nice":false},"axis":{"title":"X mm","values":[-7,-6,-5,-4,-3,-2,-1,0,1,2,3],"labelExpr":"datum.value === -7 ? '' : datum.value","domainWidth":2,"labelOverlap":false,"titlePadding":2}}}},
{"width":229,"height":103,"title":{"text":"センサ2で計測した各時刻のトレーサ位置","fontSize":7,"fontWeight":"normal","offset":2,"color":"#111"},"view":{"fill":"#f6f6f6","stroke":"#333"},
"data":{"name":"Y"},"mark":{"type":"circle","size":9,"color":"#111","opacity":1},
"encoding":{"x":{"field":"t","type":"quantitative","scale":{"domain":[0,69.5],"nice":false},"axis":{"title":"時刻 msec","values":[0,5,10,15,20,25,30,35,40,45,50,55,60,65],"labelExpr":"datum.value % 20 === 0 ? format(datum.value * 1000000, ',') : ''","labelFlush":false,"labelOverlap":false,"gridOpacity":{"condition":{"test":"datum.value % 20 === 0","value":1},"value":0}}},
"y":{"field":"v","type":"quantitative","scale":{"domain":[-7,3],"nice":false},"axis":{"title":"Y mm","values":[-7,-6,-5,-4,-3,-2,-1,0,1,2,3],"labelExpr":"datum.value === -7 ? '' : datum.value","domainWidth":2,"labelOverlap":false,"titlePadding":2}}}},
{"width":229,"height":103,"title":{"text":"センサ2で計測した各時刻のトレーサ位置","fontSize":7,"fontWeight":"normal","offset":2,"color":"#111"},"view":{"fill":"#f6f6f6","stroke":"#333"},
"encoding":{"x":{"field":"t","type":"quantitative","scale":{"domain":[0,69.5],"nice":false},"axis":{"title":"時刻 msec","values":[0,5,10,15,20,25,30,35,40,45,50,55,60,65],"labelExpr":"datum.value % 20 === 0 ? format(datum.value * 1000000, ',') : ''","labelFlush":false,"labelOverlap":false,"gridOpacity":{"condition":{"test":"datum.value % 20 === 0","value":1},"value":0}}},
"y":{"field":"v","type":"quantitative","scale":{"domain":[-7,3],"nice":false},"axis":{"title":"Z mm","values":[-7,-6,-5,-4,-3,-2,-1,0,1,2,3],"labelExpr":"datum.value === -7 ? '' : datum.value","domainWidth":2,"labelOverlap":false,"titlePadding":2}}},
"layer":[
{"data":{"name":"fitZ"},"mark":{"type":"line","color":"#a8a8a8","strokeWidth":1}},
{"data":{"name":"Z"},"mark":{"type":"circle","size":9,"color":"#111","opacity":1}}]}
]},
{"width":32,"height":1,"data":{"name":"none"},"mark":"point"},
{"spacing":6,"vconcat":[
{"width":137,"height":1,"data":{"name":"none"},"mark":"point"},
{"width":137,"height":137,"view":{"fill":"white","stroke":"#777"},"data":{"name":"b1"},"mark":{"type":"text","align":"left","baseline":"middle","fontSize":8,"dx":2,"color":"#111"},"encoding":{"text":{"field":"s"},"x":{"datum":0,"type":"quantitative","scale":{"domain":[0,1]},"axis":null},"y":{"field":"r","type":"quantitative","scale":{"domain":[14.4,0.25]},"axis":null}}},
{"width":137,"height":131,"view":{"fill":"white","stroke":"#777"},"data":{"name":"b2"},"mark":{"type":"text","align":"left","baseline":"middle","fontSize":8,"dx":2,"color":"#111"},"encoding":{"text":{"field":"s"},"x":{"datum":0,"type":"quantitative","scale":{"domain":[0,1]},"axis":null},"y":{"field":"r","type":"quantitative","scale":{"domain":[13.8,0.25]},"axis":null}}},
{"width":137,"height":139,"view":{"fill":"white","stroke":"#777"},"data":{"name":"b3"},"mark":{"type":"text","align":"left","baseline":"middle","fontSize":8,"dx":2,"color":"#111"},"encoding":{"text":{"field":"s"},"x":{"datum":0,"type":"quantitative","scale":{"domain":[0,1]},"axis":null},"y":{"field":"r","type":"quantitative","scale":{"domain":[14.6,0.25]},"axis":null}}}
]},
{"width":8,"height":1,"data":{"name":"none"},"mark":"point"},
{"spacing":0,"vconcat":[
{"width":137,"height":283,"data":{"name":"none"},"mark":"point"},
{"width":137,"height":138,"title":{"text":"Tracer Velocity","fontSize":10,"fontWeight":"normal","anchor":"start","dx":22,"offset":1,"color":"#111","font":"Noto Sans"},"view":{"fill":"white","stroke":"#777"},"data":{"name":"b4"},"mark":{"type":"text","align":"left","baseline":"middle","fontSize":8,"dx":2,"color":"#111"},"encoding":{"text":{"field":"s"},"x":{"datum":0,"type":"quantitative","scale":{"domain":[0,1]},"axis":null},"y":{"field":"r","type":"quantitative","scale":{"domain":[14.5,0.25]},"axis":null}}}
]}
]},
{"hconcat":[
{"width":12,"height":1,"data":{"name":"none"},"mark":"point"},
{"width":222,"height":18,"title":{"text":"Line color","fontSize":7,"fontWeight":"normal","anchor":"start","dx":2,"offset":0,"color":"#333"},"view":{"stroke":"#999"},"data":{"name":"lc"},
"encoding":{"x":{"field":"n","type":"ordinal","sort":null,"scale":{"paddingInner":0.35,"paddingOuter":0.2},"axis":null}},
"layer":[
{"mark":{"type":"rect"},"encoding":{"y":{"datum":0.22,"type":"quantitative","scale":{"domain":[0,1]},"axis":null},"y2":{"datum":0.78},"color":{"field":"c","type":"nominal","scale":null}}},
{"mark":{"type":"text","fontSize":7,"color":"#555"},"encoding":{"text":{"field":"l"}}}]},
{"width":273,"height":1,"data":{"name":"none"},"mark":"point"},
{"width":44,"height":21,"view":{"fill":"#f2f2f2","stroke":"#555"},"data":{"values":[{"b":"計算"}]},"mark":{"type":"text","fontSize":8,"color":"#111"},"encoding":{"text":{"field":"b"}}},
{"width":7,"height":1,"data":{"name":"none"},"mark":"point"},
{"width":46,"height":21,"view":{"fill":"#f2f2f2","stroke":"#999"},"data":{"values":[{"b":"キャプチャ"}]},"mark":{"type":"text","fontSize":8,"color":"#111"},"encoding":{"text":{"field":"b"}}}
]}
]
}
